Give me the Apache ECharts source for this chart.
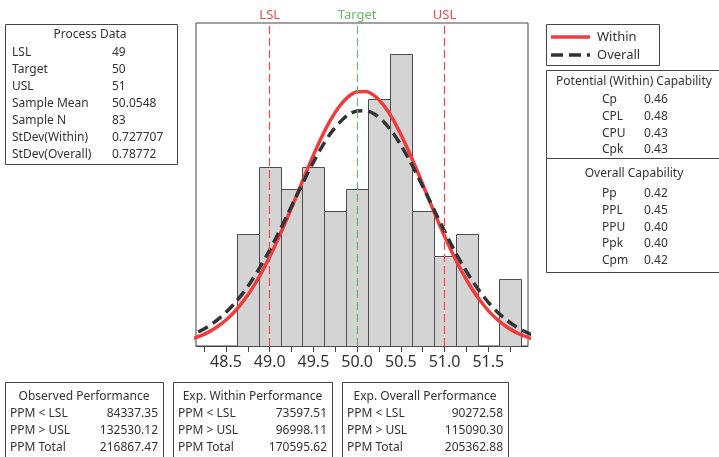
<!DOCTYPE html>
<html>
<head>
<meta charset="utf-8">
<script src="https://cdn.jsdelivr.net/npm/echarts@6/dist/echarts.min.js"></script>
<style>
  html, body { margin: 0; padding: 0; background: #fff; }
  #chart { width: 719px; height: 457px; }
</style>
</head>
<body>
<div id="chart"></div>
<script>
// histogram bins (centre, count)
const binCenters = [48.75, 49.0, 49.25, 49.5, 49.75, 50.0, 50.25, 50.5, 50.75, 51.0, 51.25, 51.5, 51.75]
const binCounts = [5, 8, 7, 8, 6, 7, 11, 13, 6, 4, 5, 0, 3]
const binWidth = 0.25

// fitted curves (counts per bin)
const curveX = [48.0, 48.1, 48.2, 48.3, 48.4, 48.5, 48.6, 48.7, 48.8, 48.9,
  49.0, 49.1, 49.2, 49.3, 49.4, 49.5, 49.6, 49.7, 49.8, 49.9,
  50.0, 50.1, 50.2, 50.3, 50.4, 50.5, 50.6, 50.7, 50.8, 50.9,
  51.0, 51.1, 51.2, 51.3, 51.4, 51.5, 51.6, 51.7, 51.8, 51.9, 52.0]
const withinFit = [0.21, 0.31, 0.44, 0.62, 0.86, 1.16, 1.54, 2.01, 2.57, 3.23,
  3.98, 4.81, 5.71, 6.64, 7.59, 8.51, 9.36, 10.10, 10.70, 11.12,
  11.34, 11.35, 11.15, 10.75, 10.17, 9.43, 8.59, 7.68, 6.73, 5.79,
  4.89, 4.06, 3.30, 2.63, 2.06, 1.58, 1.19, 0.88, 0.64, 0.46, 0.32]
const overallFit = [0.35, 0.48, 0.66, 0.88, 1.16, 1.50, 1.91, 2.39, 2.95, 3.59,
  4.28, 5.04, 5.83, 6.64, 7.44, 8.20, 8.90, 9.50, 9.97, 10.31,
  10.48, 10.49, 10.33, 10.01, 9.55, 8.96, 8.27, 7.51, 6.72, 5.91,
  5.12, 4.35, 3.65, 3.01, 2.45, 1.95, 1.53, 1.19, 0.90, 0.68, 0.50]

// spec limits
const specNames = ['LSL', 'Target', 'USL']
const specValues = [49, 50, 51]

// axis ticks
const xTicks = [48.25, 48.5, 48.75, 49.0, 49.25, 49.5, 49.75, 50.0, 50.25, 50.5, 50.75, 51.0, 51.25, 51.5, 51.75]
const xLabels = [48.5, 49.0, 49.5, 50.0, 50.5, 51.0, 51.5]

// text tables
const processRows = [
  ['LSL', '49'], ['Target', '50'], ['USL', '51'], ['Sample Mean', '50.0548'],
  ['Sample N', '83'], ['StDev(Within)', '0.727707'], ['StDev(Overall)', '0.78772']
]
const withinCapRows = [['Cp', '0.46'], ['CPL', '0.48'], ['CPU', '0.43'], ['Cpk', '0.43']]
const overallCapRows = [['Pp', '0.42'], ['PPL', '0.45'], ['PPU', '0.40'], ['Ppk', '0.40'], ['Cpm', '0.42']]
const perfTitles = ['Observed Performance', 'Exp. Within Performance', 'Exp. Overall Performance']
const perfLabels = ['PPM < LSL', 'PPM > USL', 'PPM Total']
const perfValues = [
  ['84337.35', '132530.12', '216867.47'],
  ['73597.51', '96998.11', '170595.62'],
  ['90272.58', '115090.30', '205362.88']
]

const FONT = '"Noto Sans", "DejaVu Sans", sans-serif'
const TXT = '#333'
const RED = '#f24a4a'
const GREEN = '#66bb66'

function text(str, x, y, opt) {
  opt = opt || {}
  return {
    type: 'text',
    z: 10,
    style: {
      text: str, x: x, y: y,
      font: (opt.size || 12) + 'px ' + FONT,
      fill: opt.color || TXT,
      textAlign: opt.align || 'left',
      textVerticalAlign: 'middle'
    }
  }
}
function box(x, y, w, h) {
  return {
    type: 'rect', z: 9,
    shape: { x: x + 0.5, y: y + 0.5, width: w, height: h },
    style: { fill: '#fff', stroke: '#444', lineWidth: 1 }
  }
}

const graphics = []
// Process Data
graphics.push(box(5, 24, 172, 140))
graphics.push(text('Process Data', 90, 35, { align: 'center' }))
processRows.forEach((r, i) => {
  graphics.push(text(r[0], 12, 53 + i * 17))
  graphics.push(text(r[1], 112, 53 + i * 17))
})
// legend
graphics.push(box(546, 24, 113, 41))
graphics.push({ type: 'line', z: 10, shape: { x1: 551, y1: 37, x2: 590, y2: 37 }, style: { stroke: '#f23c3c', lineWidth: 3.5 } })
graphics.push({ type: 'line', z: 10, shape: { x1: 551, y1: 55, x2: 590, y2: 55 }, style: { stroke: '#333', lineWidth: 3.5, lineDash: [12, 6] } })
graphics.push(text('Within', 597, 37, { size: 13 }))
graphics.push(text('Overall', 597, 55, { size: 13 }))
// capability
graphics.push(box(546, 70, 190, 88))
graphics.push(box(546, 158, 190, 114))
graphics.push(text('Potential (Within) Capability', 634, 81.5, { align: 'center' }))
withinCapRows.forEach((r, i) => {
  graphics.push(text(r[0], 602, 100 + i * 16.6))
  graphics.push(text(r[1], 644, 100 + i * 16.6))
})
graphics.push(text('Overall Capability', 634, 173.5, { align: 'center' }))
overallCapRows.forEach((r, i) => {
  graphics.push(text(r[0], 602, 193.5 + i * 16.8))
  graphics.push(text(r[1], 644, 193.5 + i * 16.8))
})
// performance boxes
const perfBoxes = [[5, 158], [173, 159], [342, 166]]
perfBoxes.forEach((b, k) => {
  graphics.push(box(b[0], 382, b[1], 90))
  graphics.push(text(perfTitles[k], b[0] + b[1] / 2, 397, { align: 'center' }))
  perfLabels.forEach((lab, i) => {
    graphics.push(text(lab, b[0] + 5, 414 + i * 17))
    graphics.push(text(perfValues[k][i], b[0] + b[1] - 5, 414 + i * 17, { align: 'right' }))
  })
})

const chart = echarts.init(document.getElementById('chart'))

const option = {
  animation: false,
  backgroundColor: '#fff',
  grid: {
    left: 196, right: 191, top: 23, bottom: 111,
    show: true, borderColor: '#444', borderWidth: 1, backgroundColor: '#fff'
  },
  xAxis: {
    type: 'value',
    min: 48.157,
    max: 51.954,
    splitLine: { show: false },
    axisLine: { show: true, onZero: false, lineStyle: { color: '#444', width: 1 } },
    axisTick: { show: true, customValues: xTicks, length: 6, lineStyle: { color: '#444' } },
    axisLabel: {
      customValues: xLabels,
      formatter: (v) => v.toFixed(1),
      fontSize: 16, fontFamily: FONT, color: TXT, margin: 8
    }
  },
  yAxis: { type: 'value', min: 0, max: 14.4, show: false },
  graphic: graphics,
  series: [
    {
      // spec limit reference lines
      type: 'line',
      data: [],
      z: 1,
      silent: true,
      markLine: {
        symbol: 'none',
        silent: true,
        data: specValues.map((v, i) => ({
          xAxis: v,
          lineStyle: { color: i === 1 ? GREEN : RED, type: [8, 4], width: 1.2 },
          label: {
            show: true, position: 'end', distance: 1,
            formatter: specNames[i],
            color: i === 1 ? GREEN : RED,
            fontSize: 13, fontFamily: FONT
          }
        }))
      }
    },
    {
      type: 'custom',
      z: 2,
      data: binCenters.map((c, i) => [c, binCounts[i]]),
      renderItem: (params, api) => {
        const c = api.value(0)
        const n = api.value(1)
        if (!n) return null
        const p0 = api.coord([c - binWidth / 2, n])
        const p1 = api.coord([c + binWidth / 2, 0])
        return {
          type: 'rect',
          shape: { x: Math.round(p0[0]) + 0.5, y: Math.round(p0[1]) + 0.5, width: Math.round(p1[0] - p0[0]), height: Math.round(p1[1] - p0[1]) },
          style: { fill: '#d4d4d4', stroke: '#4d4d4d', lineWidth: 1 }
        }
      }
    },
    {
      name: 'Within',
      type: 'line',
      z: 3,
      data: curveX.map((x, i) => [x, withinFit[i]]),
      smooth: 0.3,
      symbol: 'none',
      lineStyle: { color: '#f23c3c', width: 3.5 }
    },
    {
      name: 'Overall',
      type: 'line',
      z: 4,
      data: curveX.map((x, i) => [x, overallFit[i]]),
      smooth: 0.3,
      symbol: 'none',
      lineStyle: { color: '#333', width: 3.5, type: [11, 6] }
    }
  ]
}

chart.setOption(option)
</script>
</body>
</html>
